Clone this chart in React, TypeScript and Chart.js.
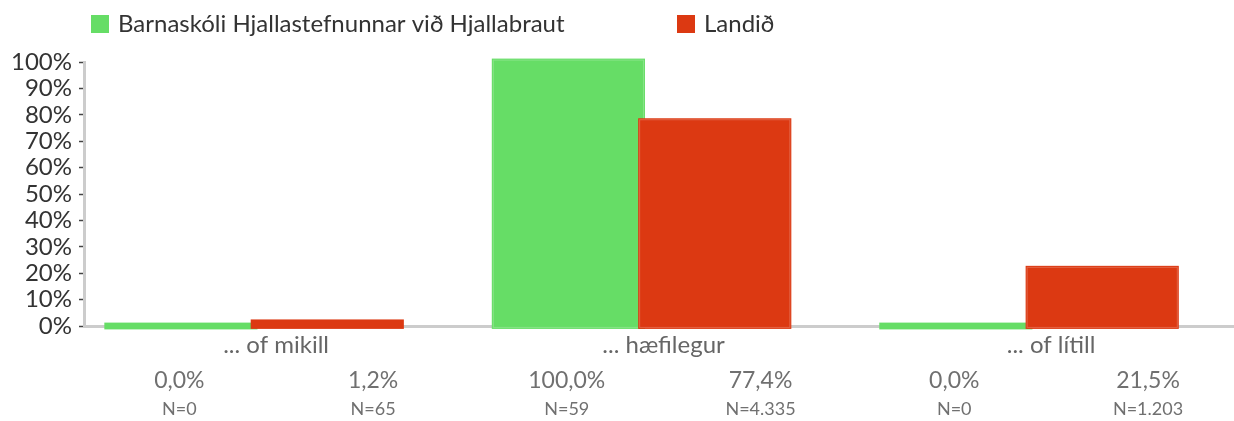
import React, { useEffect, useRef } from 'react';
import { Chart, registerables } from 'chart.js';

Chart.register(...registerables);

const categories = ['... of mikill', '... hæfilegur', '... of lítill'];
const seriesNames = ['Barnaskóli Hjallastefnunnar við Hjallabraut', 'Landið'];
const schoolValues = [0, 100, 0];
const landValues = [1.2, 77.4, 21.5];
const schoolN = [0, 59, 0];
const landN = [65, 4335, 1203];
const yTicks = [0, 10, 20, 30, 40, 50, 60, 70, 80, 90, 100];
const seriesColors = ['#66DD66', '#DC3912'];

const FONT = 'Lato, "Open Sans", sans-serif';
const OUTSET = 3.4;

const fmtPct = (v: number) => v.toFixed(1).replace('.', ',') + '%';
const fmtN = (n: number) => String(n).replace(/\B(?=(\d{3})+(?!\d))/g, '.');

// Bars are drawn with an outset edge in their own colour (as in the original),
// using each bar element's geometry as computed by Chart.js.
const outsetBars = {
  id: 'outsetBars',
  afterDatasetsDraw(chart: any) {
    const ctx = chart.ctx;
    ctx.save();
    [0, 1].forEach((di) => {
      const meta = chart.getDatasetMeta(di);
      meta.data.forEach((el: any) => {
        const p = el.getProps(['x', 'y', 'base', 'width'], true);
        const left = p.x - p.width / 2 - OUTSET;
        const top = Math.min(p.y, p.base) - OUTSET;
        const w = p.width + OUTSET * 2;
        const h = Math.abs(p.base - p.y) + OUTSET * 2;
        ctx.fillStyle = seriesColors[di];
        ctx.fillRect(left, top, w, h);
        if (h > 10) {
          ctx.strokeStyle = 'rgba(255,255,255,0.22)';
          ctx.lineWidth = 1;
          ctx.strokeRect(left + 1.5, top + 1.5, w - 3, h - 3);
        }
      });
    });
    ctx.restore();
  },
};

const extras = {
  id: 'extras',
  afterDraw(chart: any) {
    const ctx = chart.ctx;
    ctx.save();
    // legend
    const legendX = [91, 677];
    ctx.textBaseline = 'alphabetic';
    ctx.textAlign = 'left';
    ctx.font = `24px ${FONT}`;
    seriesNames.forEach((name, j) => {
      ctx.fillStyle = seriesColors[j];
      ctx.fillRect(legendX[j], 15, 18, 18);
      ctx.fillStyle = '#333333';
      ctx.fillText(name, legendX[j] + 27, 32);
    });
    // value labels
    const x = chart.scales.x;
    const unit = x.getPixelForValue(1) - x.getPixelForValue(0);
    const sets: [number[], number[]][] = [
      [schoolValues, schoolN],
      [landValues, landN],
    ];
    ctx.textAlign = 'center';
    ctx.textBaseline = 'middle';
    categories.forEach((_, i) => {
      const c = x.getPixelForValue(i);
      sets.forEach(([vals, ns], j) => {
        const px = c + (j - 0.5) * unit / 2 + unit * 0.057;
        ctx.fillStyle = '#707070';
        ctx.font = `23px ${FONT}`;
        ctx.fillText(fmtPct(vals[i]), px, 381);
        ctx.font = `18px ${FONT}`;
        ctx.fillText('N=' + fmtN(ns[i]), px, 409);
      });
    });
    ctx.restore();
  },
};

export default function App() {
  const ref = useRef<HTMLCanvasElement | null>(null);

  useEffect(() => {
    if (!ref.current) return;
    const mk = (vals: number[], j: number) => ({
      label: seriesNames[j],
      data: vals.map((v, i) => ({ x: i, y: v })),
      backgroundColor: seriesColors[j],
      borderWidth: 0,
      clip: false as const,
      categoryPercentage: 0.7555,
      barPercentage: 1.0,
    });
    const chart = new Chart(ref.current, {
      type: 'bar',
      data: {
        datasets: [mk(schoolValues, 0), mk(landValues, 1)] as any,
      },
      options: {
        animation: false,
        responsive: false,
        maintainAspectRatio: false,
        layout: { padding: { top: 62, left: 0, right: 0, bottom: 0 } },
        plugins: {
          legend: { display: false },
          tooltip: { enabled: false },
        },
        scales: {
          x: {
            type: 'linear',
            offset: false,
            min: -0.439,
            max: 2.529,
            afterBuildTicks: (s: any) => {
              s.ticks = categories.map((_, i) => ({ value: i }));
            },
            ticks: {
              callback: (v: any) => categories[v] ?? '',
              font: { family: FONT, size: 24 },
              color: '#666666',
              padding: 5,
              labelOffset: 22,
              autoSkip: false,
              maxRotation: 0,
            },
            grid: { display: false, drawTicks: false },
            border: { display: true, color: '#cccccc', width: 3 },
            afterFit: (s: any) => {
              s.height = 95;
            },
          },
          y: {
            min: 0,
            max: 100,
            afterBuildTicks: (s: any) => {
              s.ticks = yTicks.map((v) => ({ value: v }));
            },
            ticks: {
              callback: (v: any) => v + '%',
              font: { family: FONT, size: 24 },
              color: '#333333',
              padding: 7,
              autoSkip: false,
            },
            grid: {
              drawOnChartArea: false,
              drawTicks: true,
              tickLength: 5,
              tickColor: '#444444',
              tickWidth: 1.5,
            },
            border: { color: '#cccccc', width: 3 },
            afterFit: (s: any) => {
              s.width = 84;
            },
          },
        } as any,
      },
      plugins: [outsetBars, extras],
    });
    return () => chart.destroy();
  }, []);

  return (
    <div style={{ position: 'absolute', left: 0, top: 0, width: 1234, height: 421, background: '#fff' }}>
      <canvas ref={ref} width={1234} height={421} style={{ display: 'block' }} />
    </div>
  );
}
